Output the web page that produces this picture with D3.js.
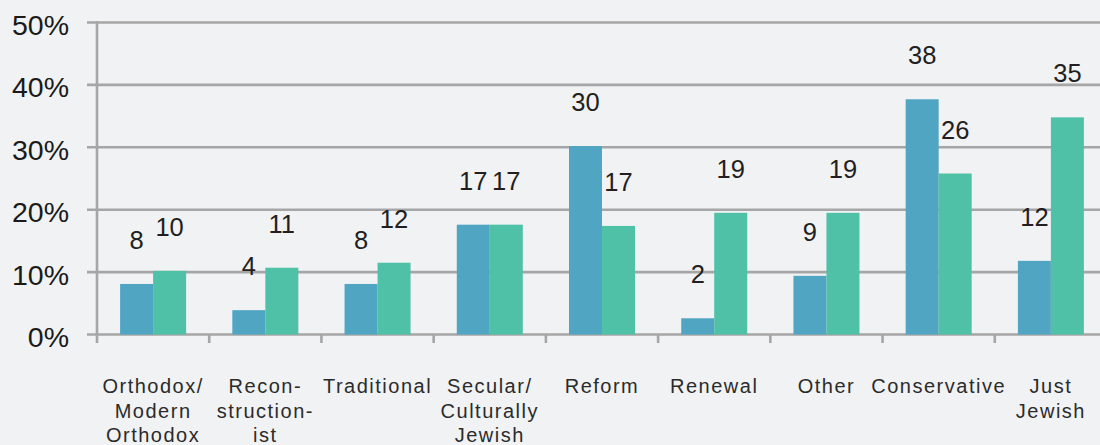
<!DOCTYPE html>
<html><head><meta charset="utf-8">
<script src="https://cdn.jsdelivr.net/npm/d3@7"></script>
<style>
html,body{margin:0;padding:0;background:#f1f2f4;}
svg{display:block;}
</style></head>
<body>
<svg id="chart" width="1100" height="445"></svg>
<script>
const categories = [
  ["Orthodox/","Modern","Orthodox"],
  ["Recon-","struction-","ist"],
  ["Traditional"],
  ["Secular/","Culturally","Jewish"],
  ["Reform"],
  ["Renewal"],
  ["Other"],
  ["Conservative"],
  ["Just","Jewish"]
];
const seriesA = [8.1, 3.9, 8.1, 17.6, 30.2, 2.6, 9.4, 37.7, 11.8];
const seriesB = [10.2, 10.7, 11.5, 17.6, 17.4, 19.5, 19.5, 25.8, 34.8];
const labelsA = ["8","4","8","17","30","2","9","38","12"];
const labelsB = ["10","11","12","17","17","19","19","26","35"];
const yTicks = [0, 10, 20, 30, 40, 50];

const colors = ["#50a5c3", "#4fc1a6"];
const gridColor = "#a6a6a6";

const svg = d3.select("#chart");
const W = 1100, H = 445;
svg.append("rect").attr("width", W).attr("height", H).attr("fill", "#f1f2f4");

const keys = categories.map((c, i) => "c" + i);
const x0 = d3.scaleBand().domain(keys).range([97, 1107]).padding(0);
const groupW = 66;
const x1 = d3.scaleBand().domain(["a","b"]).range([0, groupW]).padding(0);
const y = d3.scaleLinear().domain([0, 50]).range([334.5, 22.5]);

// grid lines
const grid = svg.append("g");
grid.selectAll("line").data(yTicks).join("line")
  .attr("x1", 87).attr("x2", W)
  .attr("y1", d => y(d)).attr("y2", d => y(d))
  .attr("stroke", gridColor).attr("stroke-width", 2.6);

// y axis line
svg.append("line").attr("x1", 97).attr("x2", 97)
  .attr("y1", y(50) - 1.3).attr("y2", 343)
  .attr("stroke", gridColor).attr("stroke-width", 2.6);

// x ticks at category boundaries
svg.append("g").selectAll("line").data(keys.slice(1)).join("line")
  .attr("x1", d => x0(d)).attr("x2", d => x0(d))
  .attr("y1", y(0)).attr("y2", 343)
  .attr("stroke", gridColor).attr("stroke-width", 2.6);

// y tick labels
svg.append("g").selectAll("text").data(yTicks).join("text")
  .attr("x", 69).attr("y", d => y(d) + 2.5)
  .attr("text-anchor", "end").attr("dominant-baseline", "central")
  .attr("font-family", "Liberation Sans, Arial, sans-serif")
  .attr("font-size", 28.5).attr("fill", "#1a1a1a")
  .text(d => d + "%");

// bars
const rows = keys.map((k, i) => ({k, i, vals: [
  {s: "a", v: seriesA[i], lab: labelsA[i], c: colors[0]},
  {s: "b", v: seriesB[i], lab: labelsB[i], c: colors[1]}
]}));
const groups = svg.append("g").selectAll("g").data(rows).join("g")
  .attr("transform", d => `translate(${x0(d.k) + (x0.bandwidth() - groupW) / 2},0)`);

groups.selectAll("rect").data(d => d.vals).join("rect")
  .attr("x", d => x1(d.s)).attr("width", x1.bandwidth())
  .attr("y", d => y(d.v)).attr("height", d => y(0) - y(d.v))
  .attr("fill", d => d.c);

groups.selectAll("text").data(d => d.vals).join("text")
  .attr("x", d => x1(d.s) + x1.bandwidth() / 2)
  .attr("y", d => y(d.v) - 35)
  .attr("text-anchor", "middle")
  .attr("font-family", "Liberation Sans, Arial, sans-serif")
  .attr("font-size", 25.5).attr("fill", "#231f20")
  .text(d => d.lab);

// category labels
const cl = svg.append("g").selectAll("text").data(rows).join("text")
  .attr("x", d => x0(d.k) + x0.bandwidth() / 2)
  .attr("y", 393)
  .attr("text-anchor", "middle")
  .attr("font-family", "Liberation Sans, Arial, sans-serif")
  .attr("font-size", 20).attr("letter-spacing", "1.5px")
  .attr("fill", "#2b2b2b");
cl.selectAll("tspan").data(d => categories[d.i]).join("tspan")
  .attr("x", function() { return d3.select(this.parentNode).attr("x"); })
  .attr("dy", (d, j) => j === 0 ? 0 : 24.5)
  .text(d => d);
</script>
</body></html>
